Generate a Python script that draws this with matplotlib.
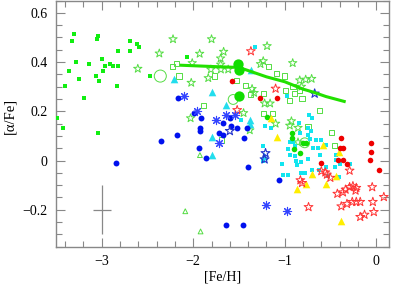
import matplotlib
matplotlib.use("Agg")
import matplotlib.pyplot as plt
from matplotlib.ticker import MultipleLocator

plt.rcParams['font.family'] = ['Liberation Serif', 'DejaVu Serif']

# halo stars, green filled squares
gsq_x = [-3.298, -3.326, -3.036, -3.053, -2.687, -2.617, -2.589, -2.818, -2.690, -3.282,
         -3.137, -2.996, -2.908, -2.966, -2.876, -2.818, -3.355, -2.988, -3.246, -3.058,
         -3.025, -2.469, -3.407, -2.835, -3.189, -3.49, -3.424, -3.036, -2.07]
gsq_y = [0.515, 0.484, 0.504, 0.493, 0.484, 0.474, 0.463, 0.443, 0.443, 0.402,
         0.393, 0.413, 0.393, 0.383, 0.382, 0.383, 0.363, 0.363, 0.333, 0.343,
         0.322, 0.343, 0.302, 0.302, 0.252, 0.173, 0.133, 0.113, 0.42]

# green open stars
gst_x = [-2.371, -2.606, -2.221, -1.80, -1.930, -1.668, -1.701, -1.70, -2.011, -1.807,
         -1.698, -1.618, -2.022, -1.836, -1.357, -1.335, -1.265, -1.235, -1.193, -0.913,
         -0.836, -0.771, -0.706, -0.818, -1.22, -1.16, -1.45, -1.10, -0.927, -0.945,
         -0.855, -1.382, -2.029, -0.855]
gst_y = [0.435, 0.373, 0.493, 0.493, 0.434, 0.442, 0.415, 0.39, 0.396, 0.370,
         0.370, 0.370, 0.316, 0.335, 0.291, 0.275, 0.392, 0.404, 0.465, 0.396,
         0.326, 0.329, 0.332, 0.30, 0.232, 0.232, 0.193, 0.15, 0.16, 0.142,
         0.133, 0.123, 0.172, 0.074]

# green open squares
gos_x = [-2.185, -2.229, -2.156, -1.771, -1.527, -1.433, -1.885, -1.374, -1.174, -1.09,
         -1.003, -0.989, -0.909, -0.836, -0.891, -0.811, -1.232, -0.945, -1.229, -1.138,
         -0.618, -0.491, -0.455, -1.69, -0.746]
gos_y = [0.393, 0.382, 0.343, 0.343, 0.325, 0.304, 0.224, 0.268, 0.383, 0.354,
         0.343, 0.285, 0.302, 0.285, 0.272, 0.252, 0.272, 0.244, 0.191, 0.191,
         0.203, 0.113, 0.062, 0.083, 0.137]

# green circles
gbig_x = [-1.51, -1.503, -1.50]
gbig_y = [0.394, 0.367, 0.264]
gopen_x = [-1.564, -0.782]
gopen_y = [0.248, 0.072]
gring_x = [-2.36]
gring_y = [0.343]
gdot_x = [-1.19, -0.916, -0.925, -0.898, -0.836, -0.80, -0.763]
gdot_y = [0.175, 0.113, 0.09, 0.045, 0.031, 0.072, 0.072]

# green small open triangles
gtri_x = [-1.927, -2.087, -1.92]
gtri_y = [0.022, -0.206, -0.288]

# model line
line_x = [-2.13, -1.8, -1.5, -1.38, -1.2, -1.0, -0.8, -0.69, -0.55, -0.35]
line_y = [0.387, 0.382, 0.378, 0.363, 0.34, 0.32, 0.29, 0.278, 0.26, 0.24]

# cyan triangles
ctri_x = [-2.21, -1.367, -1.80, -1.643, -1.375, -1.375, -1.80, -1.80, -1.23]
ctri_y = [0.33, 0.366, 0.278, 0.224, 0.165, 0.148, 0.094, 0.024, 0.02]

# cyan squares
csq_x = [-1.324, -0.971, -1.48, -0.738, -0.702, -0.844, -1.218, -1.153, -1.235, -0.945,
         -0.909, -0.89, -0.964, -0.746, -0.71, -0.72, -0.654, -0.607, -0.69, -0.637,
         -0.545, -0.945, -0.89, -0.872, -0.818, -0.746, -0.618, -0.436, -0.436, -0.746,
         -0.836, -1.03, -1.243, -0.862, -0.825, -0.782, -0.698, -0.626, -0.553, -0.455,
         -0.408, -0.40, -0.291, -1.018, -0.964, -0.53]
csq_y = [0.462, 0.261, 0.163, 0.183, 0.172, 0.153, 0.142, 0.133, 0.061, 0.074,
         0.074, 0.061, 0.048, 0.102, 0.119, 0.088, 0.085, 0.085, 0.052, 0.052,
         0.065, 0.024, 0.017, -0.003, -0.007, 0.007, 0.024, 0.024, 0.004, 0.133,
         0.113, -0.016, -0.003, -0.019, -0.05, -0.05, -0.039, -0.037, -0.026, -0.027,
         -0.068, -0.016, -0.016, -0.057, -0.057, -0.064]

# yellow triangles
ytri_x = [-1.153, -1.09, -0.582, -0.411, -0.706, -0.862, -0.771, -0.553, -0.436, -0.382]
ytri_y = [0.174, 0.096, 0.065, 0.034, -0.053, -0.115, -0.095, -0.095, -0.064, -0.247]

# red filled circles
rdot_x = [-1.58, -1.27, -1.09, -0.39, -0.36, -0.40, -0.062, -0.062, -0.073, 0.025,
          -0.418, -0.364, -0.32, -0.607]
rdot_y = [0.325, 0.252, 0.252, 0.092, 0.05, 0.052, 0.072, 0.034, 0.001, -0.039,
          0.001, 0.001, -0.016, -0.009]

# red open stars
rst_x = [-1.37, -1.10, -1.52, -0.829, -0.811, -0.74, -0.60, -0.556, -0.539, -0.502,
         -0.425, -0.364, -0.335, -0.291, -0.255, -0.218, -0.226, -0.382, -0.32, -0.262,
         -0.218, -0.175, -0.044, -0.037, 0.083, -0.026, -0.175, -0.128, -0.291]
rst_y = [0.444, 0.292, 0.205, -0.08, -0.091, -0.189, -0.043, -0.048, -0.057, -0.07,
         -0.135, -0.129, -0.118, -0.108, -0.104, -0.111, -0.122, -0.186, -0.176, -0.168,
         -0.168, -0.168, -0.108, -0.168, -0.148, -0.209, -0.229, -0.22, -0.041]

# blue filled circles
bdot_x = [-2.17, -1.99, -1.913, -1.927, -1.927, -2.18, -2.356, -1.938, -1.858, -1.72,
          -1.68, -1.673, -1.592, -1.60, -1.52, -1.444, -1.411, -1.40, -1.062, -1.647,
          -1.455, -2.846]
bdot_y = [0.252, 0.193, 0.172, 0.133, 0.119, 0.103, 0.081, 0.052, 0.012, 0.113,
          0.103, 0.153, 0.142, 0.172, 0.133, 0.092, 0.133, -0.028, -0.078, -0.26,
          -0.26, -0.009]

# blue asterisks
bast_x = [-2.10, -1.956, -1.75, -1.64, -1.54, -1.715, -1.20, -0.973]
bast_y = [0.262, 0.203, 0.163, 0.183, 0.183, 0.073, -0.179, -0.207]

# blue open stars
bst_x = [-0.673, -1.60, -1.21, -1.22]
bst_y = [0.272, 0.12, 0.03, 0.005]

fig = plt.figure(figsize=(3.95, 2.85), dpi=100)
ax = fig.add_axes([56 / 395, 1 - 246.7 / 285, 333.5 / 395, 246.2 / 285])

green = '#22e000'
lgreen = '#55dd44'
ax.plot(line_x, line_y, color=green, lw=2.2, zorder=5)
ax.scatter(gsq_x, gsq_y, marker='s', s=9, color='#11ee11', lw=0, zorder=3)
ax.scatter(gst_x, gst_y, marker='*', s=40, facecolors='none', edgecolors=lgreen, lw=0.7, zorder=3)
ax.scatter(gos_x, gos_y, marker='s', s=14, facecolors='none', edgecolors=lgreen, lw=0.7, zorder=3)
ax.scatter(gring_x, gring_y, marker='o', s=75, facecolors='none', edgecolors=lgreen, lw=0.7, zorder=3)
ax.scatter(gopen_x, gopen_y, marker='o', s=50, facecolors='none', edgecolors=lgreen, lw=0.7, zorder=3)
ax.scatter(gbig_x, gbig_y, marker='o', s=55, color='#11dd00', lw=0, zorder=6)
ax.scatter(gdot_x, gdot_y, marker='o', s=16, color='#11dd00', lw=0, zorder=4)
ax.scatter(gtri_x, gtri_y, marker='^', s=12, facecolors='none', edgecolors=lgreen, lw=0.7, zorder=3)
ax.scatter(csq_x, csq_y, marker='s', s=12, color='#11e5f0', lw=0, zorder=3)
ax.scatter(ctri_x, ctri_y, marker='^', s=30, color='#22dded', lw=0, zorder=3)
ax.scatter(ytri_x, ytri_y, marker='^', s=30, color='#ffee00', lw=0, zorder=4)
ax.scatter(rdot_x, rdot_y, marker='o', s=16, color='#ee0000', lw=0, zorder=4)
ax.scatter(rst_x, rst_y, marker='*', s=45, facecolors='none', edgecolors='#ff3333', lw=0.7, zorder=4)
ax.scatter(bdot_x, bdot_y, marker='o', s=18, color='#0011ee', lw=0, zorder=4)
ax.scatter(bast_x, bast_y, marker=(8, 2, 0), s=35, color='#3344ff', lw=0.8, zorder=4)
ax.scatter(bst_x, bst_y, marker='*', s=45, facecolors='none', edgecolors='#2233cc', lw=0.8, zorder=4)

# typical error bar
ax.errorbar([-3.0], [-0.2], xerr=[0.1], yerr=[0.1], fmt='none', ecolor='#888888', elinewidth=0.9, capsize=0)

ax.set_xlim(-3.5, 0.145)
ax.set_ylim(-0.35, 0.65)
ax.xaxis.set_major_locator(MultipleLocator(1))
ax.xaxis.set_minor_locator(MultipleLocator(0.2))
ax.yaxis.set_major_locator(MultipleLocator(0.2))
ax.yaxis.set_minor_locator(MultipleLocator(0.05))
ax.yaxis.set_major_formatter(plt.FuncFormatter(lambda v, p: '0' if abs(v) < 1e-9 else ('%.1f' % v).replace('-', '\u2212')))
ax.tick_params(which='both', direction='in', top=True, right=True, color='#888888', labelsize=10, width=0.8)
ax.tick_params(which='major', length=6.5, pad=6)
ax.tick_params(which='minor', length=4)
for sp in ax.spines.values():
    sp.set_color('#888888')
    sp.set_linewidth(1.0)

ax.set_xlabel('[Fe/H]', fontsize=10)
ax.xaxis.set_label_coords(0.5, -0.095)
ax.set_ylabel('[\u03b1/Fe]', fontsize=10.5)
ax.yaxis.set_label_coords(-0.12, 0.53)

fig.savefig('out.png', dpi=100)
